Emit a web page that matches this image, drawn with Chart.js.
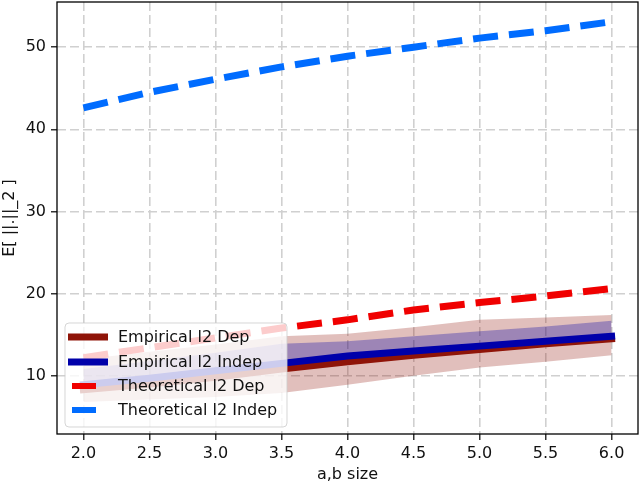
<!DOCTYPE html>
<html>
<head>
<meta charset="utf-8">
<script src="https://cdn.jsdelivr.net/npm/chart.js@4.4.1/dist/chart.umd.min.js"></script>
<style>
  html, body { margin: 0; padding: 0; background: #fff; }
  canvas { display: block; }
</style>
</head>
<body>
<canvas id="myChart" width="640" height="484"></canvas>
<script>
// values
const sizes = [2.0, 2.5, 3.0, 3.5, 4.0, 4.5, 5.0, 5.5, 6.0];
const theoIndep = [42.6, 44.5, 46.1, 47.6, 48.9, 50.0, 51.1, 52.0, 53.1];
const theoDep = [12.2, 13.4, 14.6, 15.8, 16.8, 18.0, 18.9, 19.7, 20.6];
const empIndep = [8.9, 9.7, 10.6, 11.5, 12.4, 13.0, 13.6, 14.2, 14.8];
const empDep = [8.3, 9.0, 9.8, 10.8, 11.7, 12.5, 13.2, 13.9, 14.5];
const depUpper = [12.0, 12.9, 13.8, 14.8, 15.1, 15.9, 16.8, 17.1, 17.4];
const depLower = [6.8, 7.1, 7.4, 7.9, 8.9, 10.0, 11.0, 11.7, 12.5];
const indepUpper = [10.8, 11.8, 12.8, 13.9, 14.2, 14.8, 15.4, 16.0, 16.7];
const indepLower = [8.2, 9.0, 9.8, 10.8, 11.7, 12.5, 13.2, 13.9, 14.5];

const xTicks = [2.0, 2.5, 3.0, 3.5, 4.0, 4.5, 5.0, 5.5, 6.0];
const yTicks = [10, 20, 30, 40, 50];

const legendItems = [
  { label: 'Empirical l2 Dep', color: '#8f1408', dashed: false },
  { label: 'Empirical l2 Indep', color: '#0000aa', dashed: false },
  { label: 'Theoretical l2 Dep', color: '#f00000', dashed: true },
  { label: 'Theoretical l2 Indep', color: '#006cff', dashed: true }
];

function pts(ys) {
  return sizes.map((x, i) => ({ x: x, y: ys[i] }));
}

// lower order = drawn later (on top), like matplotlib's plot order
function lineSet(label, ys, color, dashed, order) {
  return {
    label: label,
    data: pts(ys),
    borderColor: color,
    borderWidth: 7,
    borderDash: dashed ? [25, 11] : [],
    borderCapStyle: dashed ? 'butt' : 'square',
    pointRadius: 0,
    fill: false,
    order: order
  };
}

function bandSet(ys, fill, color) {
  return {
    label: '',
    data: pts(ys),
    borderWidth: 0,
    borderColor: 'rgba(0,0,0,0)',
    backgroundColor: color,
    pointRadius: 0,
    fill: fill,
    order: 1
  };
}

// frame on all four sides + legend box inside the plot
const framePlugin = {
  id: 'frame',
  afterDraw(chart) {
    const ctx = chart.ctx;
    const a = chart.chartArea;
    ctx.save();
    ctx.strokeStyle = '#000';
    ctx.lineWidth = 1.3;
    ctx.strokeRect(a.left, a.top, a.right - a.left, a.bottom - a.top);

    // legend
    const bx = 65, by = 323, bw = 222, bh = 104, r = 4;
    ctx.beginPath();
    ctx.moveTo(bx + r, by);
    ctx.arcTo(bx + bw, by, bx + bw, by + bh, r);
    ctx.arcTo(bx + bw, by + bh, bx, by + bh, r);
    ctx.arcTo(bx, by + bh, bx, by, r);
    ctx.arcTo(bx, by, bx + bw, by, r);
    ctx.closePath();
    ctx.fillStyle = 'rgba(255,255,255,0.8)';
    ctx.fill();
    ctx.strokeStyle = 'rgba(204,204,204,0.8)';
    ctx.lineWidth = 1;
    ctx.stroke();

    const rows = [337, 362, 386, 410];
    ctx.font = '16px "DejaVu Sans"';
    ctx.textBaseline = 'middle';
    ctx.textAlign = 'left';
    legendItems.forEach((it, i) => {
      ctx.fillStyle = it.color;
      if (it.dashed) {
        ctx.fillRect(72, rows[i] - 3, 24, 6);
      } else {
        ctx.fillRect(68, rows[i] - 3.5, 40, 7);
      }
      ctx.fillStyle = '#111';
      ctx.fillText(it.label, 118, rows[i] + 1);
    });
    ctx.restore();
  }
};

const ctx = document.getElementById('myChart').getContext('2d');
Chart.defaults.font.family = '"DejaVu Sans"';
Chart.defaults.color = '#111';

const myChart = new Chart(ctx, {
  type: 'line',
  data: {
    datasets: [
      lineSet('Empirical l2 Dep', empDep, '#8f1408', false, 0),
      lineSet('Empirical l2 Indep', empIndep, '#0000aa', false, -1),
      lineSet('Theoretical l2 Dep', theoDep, '#f00000', true, -2),
      lineSet('Theoretical l2 Indep', theoIndep, '#006cff', true, -3),
      bandSet(indepUpper, '+1', 'rgba(0,0,170,0.3)'),
      bandSet(indepLower, false, 'rgba(0,0,0,0)'),
      bandSet(depUpper, '+1', 'rgba(143,20,8,0.27)'),
      bandSet(depLower, false, 'rgba(0,0,0,0)')
    ]
  },
  options: {
    responsive: false,
    animation: false,
    devicePixelRatio: 1,
    layout: { padding: { top: 2, right: 2, left: 0, bottom: 0 } },
    plugins: {
      legend: { display: false },
      tooltip: { enabled: false }
    },
    scales: {
      x: {
        type: 'linear',
        min: 1.8,
        max: 6.2,
        afterBuildTicks: s => { s.ticks = xTicks.map(v => ({ value: v })); },
        afterFit: s => { s.height = 50; s.paddingLeft = 0; s.paddingRight = 0; },
        ticks: {
          font: { size: 16 },
          color: '#111',
          padding: 4,
          maxRotation: 0,
          callback: v => Number(v).toFixed(1)
        },
        grid: {
          color: '#d0d0d0',
          lineWidth: 1.6,
          tickLength: 6,
          tickColor: '#000',
          tickWidth: 1.2
        },
        border: { display: false, dash: [9, 4] },
        title: {
          display: true,
          text: 'a,b size',
          font: { size: 16 },
          color: '#111',
          padding: { top: 0, bottom: 0 }
        }
      },
      y: {
        type: 'linear',
        min: 2.9,
        max: 55.5,
        afterBuildTicks: s => { s.ticks = yTicks.map(v => ({ value: v })); },
        afterFit: s => { s.width = 57; s.paddingTop = 0; s.paddingBottom = 0; },
        ticks: {
          font: { size: 16 },
          color: '#111',
          padding: 5,
          callback: v => String(v)
        },
        grid: {
          color: '#d0d0d0',
          lineWidth: 1.6,
          tickLength: 6,
          tickColor: '#000',
          tickWidth: 1.2
        },
        border: { display: false, dash: [9, 4] },
        title: {
          display: true,
          text: 'E[ ||.||_2 ]',
          font: { size: 16 },
          color: '#111',
          padding: { top: 0, bottom: 0 }
        }
      }
    }
  },
  plugins: [framePlugin]
});
</script>
</body>
</html>
